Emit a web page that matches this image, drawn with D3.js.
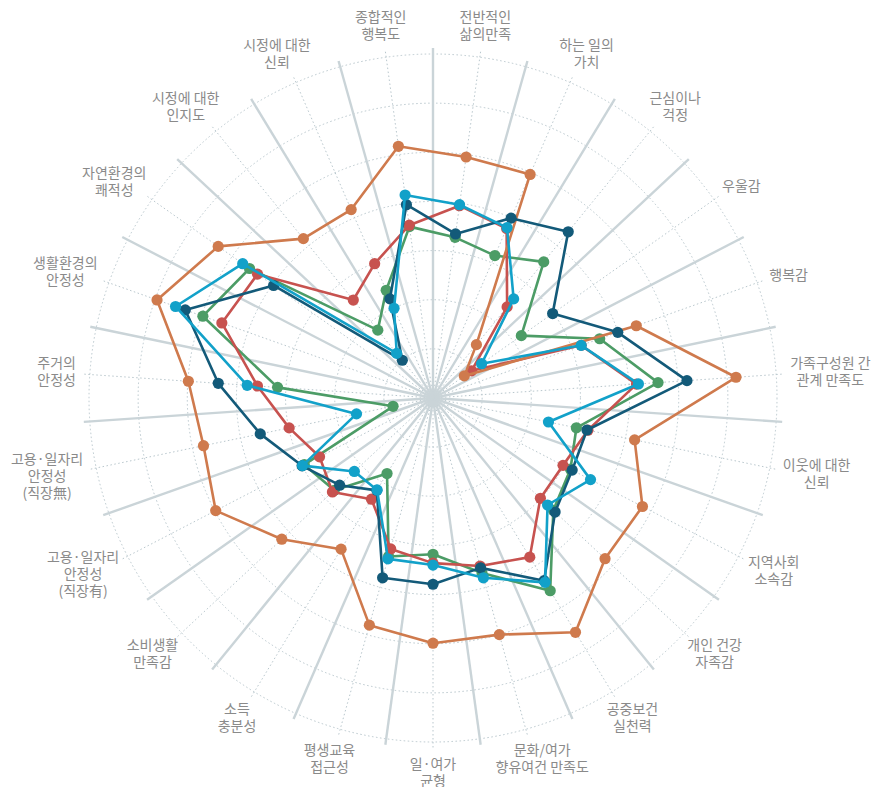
<!DOCTYPE html>
<html><head><meta charset="utf-8">
<script src="https://cdn.jsdelivr.net/npm/d3@7"></script>
<style>body{margin:0;background:#fff}svg{display:block}</style>
</head><body><svg id="chart" width="881" height="787"></svg>
<script>
// Axis categories (clockwise, starting just right of 12 o'clock)
const categories = [
  "전반적인\n삶의만족", "하는 일의\n가치", "근심이나\n걱정", "우울감", "행복감",
  "가족구성원 간\n관계 만족도", "이웃에 대한\n신뢰", "지역사회\n소속감", "개인 건강\n자족감",
  "공중보건\n실천력", "문화/여가\n향유여건 만족도", "일·여가\n균형", "평생교육\n접근성",
  "소득\n충분성", "소비생활\n만족감", "고용·일자리\n안정성\n(직장有)", "고용·일자리\n안정성\n(직장無)",
  "주거의\n안정성", "생활환경의\n안정성", "자연환경의\n쾌적성", "시정에 대한\n인지도",
  "시정에 대한\n신뢰", "종합적인\n행복도"
];
const gridTicks = [1, 2, 3, 4, 5, 6, 7];

const seriesGreen    = [3.30, 3.16, 3.57, 2.20, 3.60, 4.59, 2.98, 3.15, 3.35, 4.59, 3.70, 3.18, 3.35, 1.80, 2.75, 2.95, 0.83, 3.17, 4.97, 4.57, 1.78, 2.39, 3.52];
const seriesRed      = [3.95, 3.76, 2.39, 0.96, 3.20, 4.15, 3.22, 2.98, 2.99, 3.79, 3.55, 3.36, 3.19, 2.41, 2.80, 2.60, 2.99, 3.58, 4.56, 4.37, 2.57, 2.98, 3.55];
const seriesOrange   = [4.95, 4.96, 1.40, 0.78, 4.39, 6.18, 4.19, 4.80, 4.79, 5.58, 5.00, 4.99, 4.80, 3.60, 4.21, 4.98, 4.77, 4.99, 5.96, 5.35, 4.18, 4.18, 5.17];
const seriesDark     = [3.37, 3.99, 4.36, 2.98, 3.99, 5.18, 3.20, 3.19, 3.40, 4.35, 3.59, 3.79, 3.80, 2.20, 2.60, 3.00, 3.59, 4.38, 5.35, 3.97, 0.99, 2.20, 3.97];
const seriesLight    = [3.97, 3.78, 2.60, 1.21, 3.20, 4.19, 2.40, 3.61, 3.19, 4.39, 3.80, 3.40, 3.40, 2.19, 2.19, 2.99, 1.59, 3.79, 5.56, 4.74, 1.17, 1.99, 4.17];

const seriesList = [
  {values: seriesGreen,  color: "#4c9c66"},
  {values: seriesRed,    color: "#c7524f"},
  {values: seriesOrange, color: "#cf7a4d"},
  {values: seriesDark,   color: "#135a79"},
  {values: seriesLight,  color: "#12a1c9"}
];

const W = 881, H = 787, cx = 433, cy = 398;
const n = categories.length;
const step = 2 * Math.PI / n;
const angleOf = i => (i + 0.5) * step;
const r = d3.scaleLinear().domain([0, 7]).range([0, 344]);
const spokeLen = 350;

const svg = d3.select("#chart");
const g = svg.append("g").attr("transform", `translate(${cx},${cy})`);

// dotted grid circles
g.append("g").selectAll("circle").data(gridTicks).join("circle")
  .attr("r", d => r(d)).attr("fill", "none")
  .attr("stroke", "#b9c7cd").attr("stroke-width", 1).attr("stroke-dasharray", "1.5,2.5");

// dotted spokes (data axes)
g.append("g").selectAll("line").data(d3.range(n)).join("line")
  .attr("x1", 0).attr("y1", 0)
  .attr("x2", i => spokeLen * Math.sin(angleOf(i)))
  .attr("y2", i => -spokeLen * Math.cos(angleOf(i)))
  .attr("stroke", "#b9c7cd").attr("stroke-width", 1).attr("stroke-dasharray", "1.5,2.5");

// solid separator spokes
g.append("g").selectAll("line").data(d3.range(n)).join("line")
  .attr("x1", 0).attr("y1", 0)
  .attr("x2", i => spokeLen * Math.sin(i * step))
  .attr("y2", i => -spokeLen * Math.cos(i * step))
  .attr("stroke", "#cad4d8").attr("stroke-width", 2.4);

// series
const radial = d3.lineRadial()
  .angle((d, i) => angleOf(i))
  .radius(d => r(d))
  .curve(d3.curveLinearClosed);

seriesList.forEach(s => {
  const sg = g.append("g");
  sg.append("path").attr("d", radial(s.values))
    .attr("fill", "none").attr("stroke", s.color).attr("stroke-width", 2.6)
    .attr("stroke-linejoin", "round");
  sg.selectAll("circle").data(s.values).join("circle")
    .attr("cx", (d, i) => r(d) * Math.sin(angleOf(i)))
    .attr("cy", (d, i) => -r(d) * Math.cos(angleOf(i)))
    .attr("r", 5.6).attr("fill", s.color);
});

// labels
const labelR = 358, lineH = 17, shiftY = -1.5;
const lg = g.append("g")
  .attr("font-family", "'Noto Sans CJK KR', 'Noto Sans', sans-serif")
  .attr("font-size", 14).attr("fill", "#8a8a8a");
categories.forEach((c, i) => {
  const a = angleOf(i);
  const dx = Math.sin(a), dy = -Math.cos(a);
  const lines = c.split("\n");
  const t = lg.append("text").attr("text-anchor", "middle");
  lines.forEach((ln, k) => {
    t.append("tspan").attr("x", 0).attr("y", (k + 0.5) * lineH).attr("dominant-baseline", "central").text(ln);
  });
  const w = t.node().getBBox().width;
  const h = lines.length * lineH;
  const bx = labelR * dx + dx * w / 2;
  const by = labelR * dy + dy * h / 2 + shiftY;
  t.attr("transform", `translate(${bx},${by - h / 2})`);
});
</script>
</body></html>
